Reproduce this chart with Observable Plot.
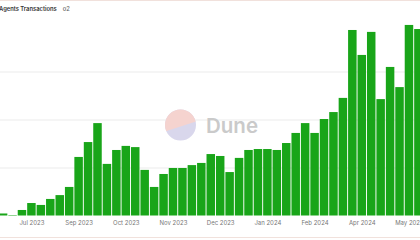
<!DOCTYPE html>
<html>
<head>
<meta charset="utf-8">
<script src="https://cdn.jsdelivr.net/npm/d3@7"></script>
<script src="https://cdn.jsdelivr.net/npm/@observablehq/plot@0.6"></script>
<style>
  html, body { margin: 0; padding: 0; background: #fff; overflow: hidden; }
  #wrap { position: relative; width: 420px; height: 240px; overflow: hidden; font-family: Inter, "Noto Sans", sans-serif; }
  #title { position: absolute; left: -1px; top: 5px; font-size: 5.8px; font-weight: 600; color: #333; white-space: nowrap; }
  #title span { font-weight: 500; color: #666; margin-left: 6px; }
  .border { position: absolute; left: 0; width: 420px; height: 1px; background: #f1e1dc; }
  #wm { position: absolute; left: 0; top: 0; pointer-events: none; }
</style>
</head>
<body>
<div id="wrap">
  <div class="border" style="top:0"></div>
  <div id="chart"></div>
  <div id="title">Agents Transactions<span>o2</span></div>
  <svg id="wm" width="420" height="240">
    <defs><clipPath id="c"><circle cx="180.5" cy="125" r="15.5"/></clipPath></defs>
    <g clip-path="url(#c)">
      <rect x="160" y="105" width="45" height="45" fill="#d9d7ec"/>
      <polygon points="160,105 205,105 205,118.5 160,133" fill="#f5d3cf"/>
    </g>
    <text x="206" y="132.7" font-family="Inter, sans-serif" font-size="20.5" font-weight="600" fill="#cacaca">Dune</text>
  </svg>
  <div class="border" style="top:237px"></div>
</div>
<script>
const weeks = [
  "2023-07-10","2023-07-17","2023-07-24","2023-07-31",
  "2023-08-07","2023-08-14","2023-08-21","2023-08-28",
  "2023-09-04","2023-09-11","2023-09-18","2023-09-25",
  "2023-10-02","2023-10-09","2023-10-16","2023-10-23","2023-10-30",
  "2023-11-06","2023-11-13","2023-11-20","2023-11-27",
  "2023-12-04","2023-12-11","2023-12-18","2023-12-25",
  "2024-01-01","2024-01-08","2024-01-15","2024-01-22","2024-01-29",
  "2024-02-05","2024-02-12","2024-02-19","2024-02-26",
  "2024-03-04","2024-03-11","2024-03-18","2024-03-25",
  "2024-04-01","2024-04-08","2024-04-15","2024-04-22","2024-04-29",
  "2024-05-06","2024-05-13"
];
const transactions = [
  42, 10, 115, 260,
  220, 345, 425, 595,
  1220, 1530, 1925, 1075,
  1365, 1450, 1425, 950, 595,
  865, 990, 990, 1050,
  1095, 1280, 1240, 905,
  1200, 1365, 1385, 1385, 1365,
  1510, 1720, 1925, 1720,
  2010, 2155, 2450, 3865,
  3345, 3825, 2425, 3095, 2675,
  3970, 3885
];
const tickWeeks = ["2023-07-31","2023-09-04","2023-10-09","2023-11-13","2023-12-18","2024-01-22","2024-02-26","2024-04-01","2024-05-06"];
const tickLabels = ["Jul 2023","Sep 2023","Oct 2023","Nov 2023","Dec 2023","Jan 2024","Feb 2024","Apr 2024","May 2024"];
const gridValues = [1000, 2000, 3000];

const rows = weeks.map((w, i) => ({week: w, value: transactions[i]}));

const chart = Plot.plot({
  width: 420,
  height: 240,
  marginTop: 23.5,
  marginBottom: 24.5,
  marginLeft: 0,
  marginRight: 0,
  style: {fontFamily: "Inter, 'Noto Sans', sans-serif", fontSize: "6px", background: "transparent"},
  x: {domain: weeks, range: [-2.09, 423.6], padding: 0.1, round: false, axis: null},
  y: {domain: [0, 4000], axis: null},
  marks: [
    Plot.ruleY(gridValues, {stroke: "#ebebeb", strokeWidth: 1}),
    Plot.barY(rows, {x: "week", y: "value", fill: "#19a519"}),
    Plot.text(tickWeeks, {x: d => d, text: (d, i) => tickLabels[i], frameAnchor: "bottom", lineAnchor: "top", dy: 4.5, fill: "#777", fontSize: 6})
  ]
});
document.getElementById("chart").appendChild(chart);
</script>
</body>
</html>
